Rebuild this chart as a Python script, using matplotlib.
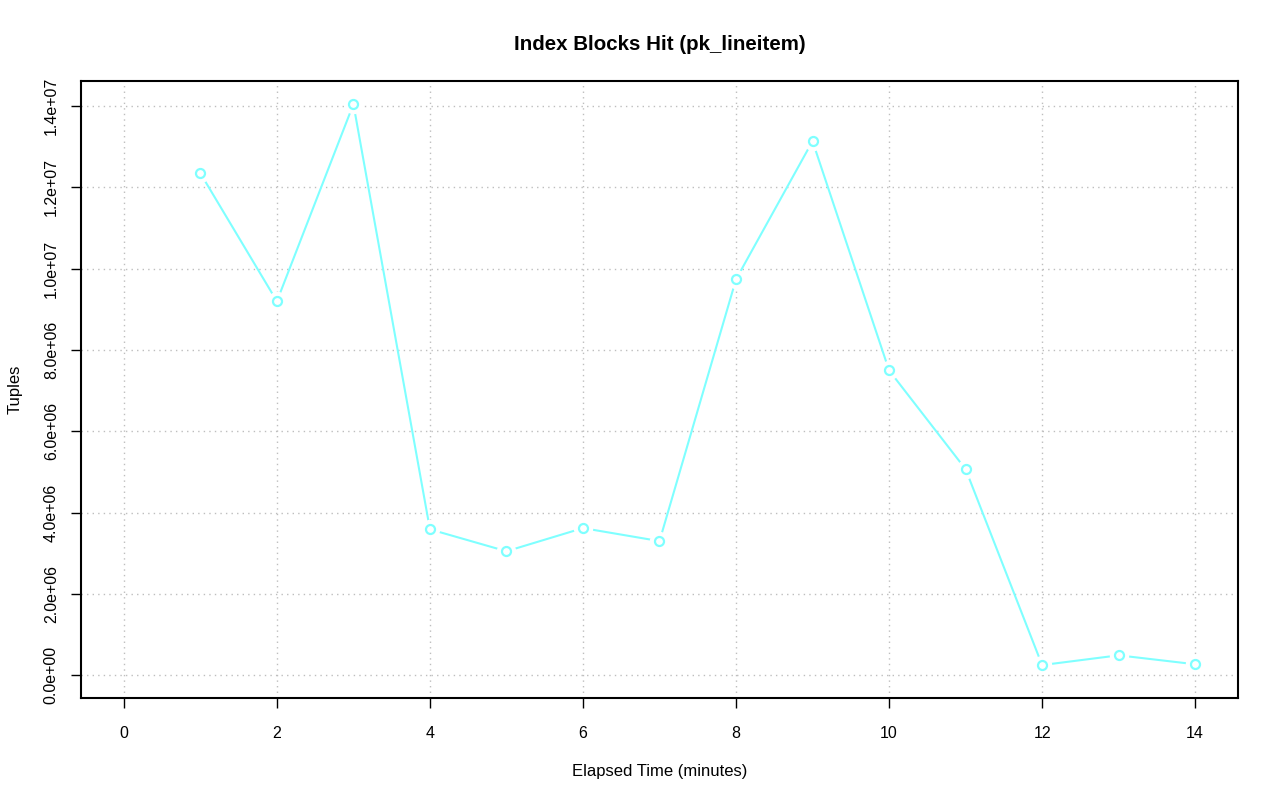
import matplotlib
matplotlib.use("Agg")
import matplotlib.pyplot as plt
from matplotlib.ticker import FuncFormatter

plt.rcParams['font.family'] = ['Liberation Sans', 'DejaVu Sans']

minutes = [1, 2, 3, 4, 5, 6, 7, 8, 9, 10, 11, 12, 13, 14]
tuples = [12.35e6, 9.20e6, 14.05e6, 3.59e6, 3.05e6, 3.62e6, 3.30e6,
          9.74e6, 13.14e6, 7.50e6, 5.07e6, 0.25e6, 0.49e6, 0.27e6]
x_ticks = [0, 2, 4, 6, 8, 10, 12, 14]
y_ticks = [0, 2e6, 4e6, 6e6, 8e6, 10e6, 12e6, 14e6]

fig = plt.figure(figsize=(12.8, 8.01), dpi=100)
ax = fig.add_axes([81/1280, 1-698/801, (1238-81)/1280, (698-81)/801])

color = '#7FFFFF'
ax.plot(minutes, tuples, color=color, lw=1.5, zorder=3)
ax.plot(minutes, tuples, 'o', ms=13, mfc='white', mec='white', zorder=4)
ax.plot(minutes, tuples, 'o', ms=6.5, mfc='white', mec=color, mew=1.6, zorder=5)

ax.set_xlim(-0.56, 14.56)
ax.set_ylim(-0.56e6, 14.62e6)
ax.set_xticks(x_ticks)
ax.set_yticks(y_ticks)
ax.yaxis.set_major_formatter(FuncFormatter(lambda v, p: f"{v:.1e}"))
ax.grid(True, color='#BEBEBE', linestyle=(0, (1, 3)), lw=1)
ax.set_axisbelow(True)
for s in ax.spines.values():
    s.set_linewidth(1.5)
ax.tick_params(axis='both', length=7, width=1, labelsize=11.5)
ax.tick_params(axis='x', pad=13)
ax.tick_params(axis='y', pad=9)
for lab in ax.get_yticklabels():
    lab.set_rotation(90)
    lab.set_va('center')

ax.set_title('Index Blocks Hit (pk_lineitem)', fontsize=14.8, fontweight='bold', pad=22)
ax.set_xlabel('Elapsed Time (minutes)', fontsize=12, labelpad=17)
ax.set_ylabel('Tuples', fontsize=12, labelpad=15)

fig.savefig('out.png', dpi=100)
